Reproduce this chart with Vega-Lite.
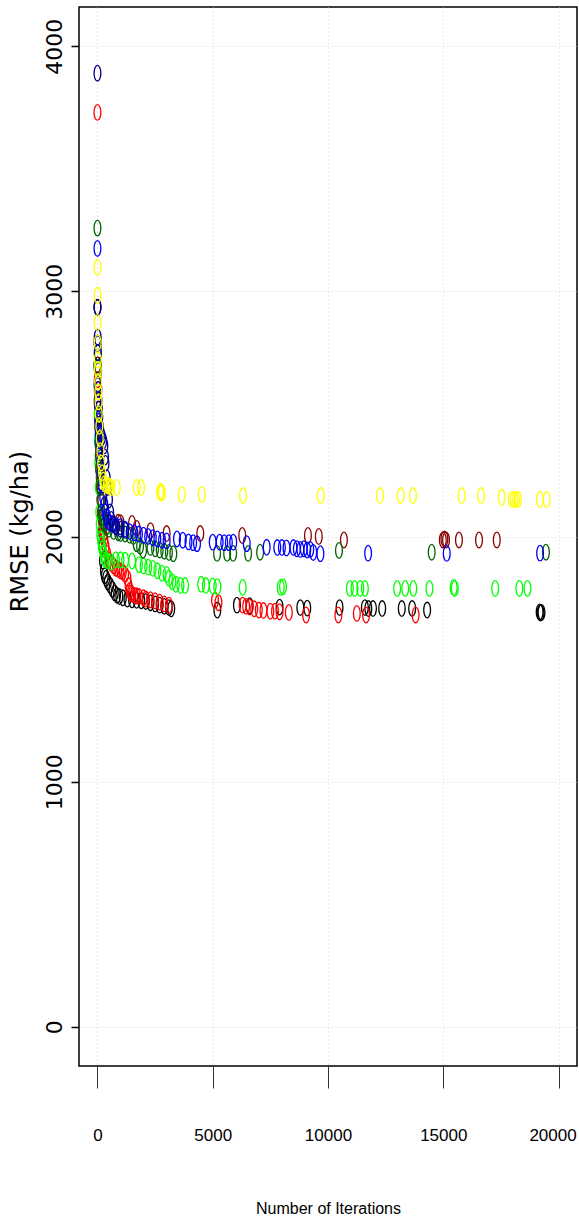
{
  "$schema": "https://vega.github.io/schema/vega-lite/v6.json",
  "width": 498,
  "height": 1059,
  "autosize": {"type": "none"},
  "padding": {"left": 79, "top": 7, "right": 2, "bottom": 163},
  "background": "white",
  "config": {"view": {"stroke": "black", "strokeWidth": 1.5}},
  "datasets": {
    "runs": [
      {"run":"black","iteration":0,"rmse":2935},{"run":"black","iteration":5,"rmse":2790},{"run":"black","iteration":10,"rmse":2700},{"run":"black","iteration":20,"rmse":2620},{"run":"black","iteration":30,"rmse":2560},{"run":"black","iteration":50,"rmse":2500},{"run":"black","iteration":70,"rmse":2430},{"run":"black","iteration":90,"rmse":2370},{"run":"black","iteration":110,"rmse":2300},{"run":"black","iteration":130,"rmse":2220},{"run":"black","iteration":150,"rmse":2150},{"run":"black","iteration":170,"rmse":2080},{"run":"black","iteration":190,"rmse":2020},{"run":"black","iteration":210,"rmse":1960},{"run":"black","iteration":240,"rmse":1900},{"run":"black","iteration":280,"rmse":1860},{"run":"black","iteration":320,"rmse":1840},{"run":"black","iteration":380,"rmse":1830},{"run":"black","iteration":450,"rmse":1815},{"run":"black","iteration":550,"rmse":1800},{"run":"black","iteration":650,"rmse":1785},{"run":"black","iteration":750,"rmse":1770},{"run":"black","iteration":850,"rmse":1760},{"run":"black","iteration":950,"rmse":1755},{"run":"black","iteration":1100,"rmse":1750},{"run":"black","iteration":1300,"rmse":1745},{"run":"black","iteration":1500,"rmse":1742},{"run":"black","iteration":1700,"rmse":1740},{"run":"black","iteration":1900,"rmse":1738},{"run":"black","iteration":2100,"rmse":1735},{"run":"black","iteration":2300,"rmse":1730},{"run":"black","iteration":2500,"rmse":1725},{"run":"black","iteration":2700,"rmse":1720},{"run":"black","iteration":2900,"rmse":1715},{"run":"black","iteration":3100,"rmse":1710},{"run":"black","iteration":3200,"rmse":1705},{"run":"black","iteration":5200,"rmse":1700},{"run":"black","iteration":6050,"rmse":1720},{"run":"black","iteration":6600,"rmse":1718},{"run":"black","iteration":7900,"rmse":1712},{"run":"black","iteration":8800,"rmse":1710},{"run":"black","iteration":9100,"rmse":1708},{"run":"black","iteration":10500,"rmse":1710},{"run":"black","iteration":11600,"rmse":1710},{"run":"black","iteration":11750,"rmse":1706},{"run":"black","iteration":11950,"rmse":1706},{"run":"black","iteration":12350,"rmse":1706},{"run":"black","iteration":13200,"rmse":1706},{"run":"black","iteration":13650,"rmse":1706},{"run":"black","iteration":14300,"rmse":1700},{"run":"black","iteration":19180,"rmse":1692},{"run":"black","iteration":19220,"rmse":1688},{"run":"black","iteration":19260,"rmse":1690},
      {"run":"red","iteration":0,"rmse":3730},{"run":"red","iteration":5,"rmse":2690},{"run":"red","iteration":10,"rmse":2640},{"run":"red","iteration":15,"rmse":2600},{"run":"red","iteration":20,"rmse":2560},{"run":"red","iteration":30,"rmse":2520},{"run":"red","iteration":40,"rmse":2480},{"run":"red","iteration":50,"rmse":2440},{"run":"red","iteration":60,"rmse":2400},{"run":"red","iteration":80,"rmse":2350},{"run":"red","iteration":100,"rmse":2300},{"run":"red","iteration":120,"rmse":2250},{"run":"red","iteration":140,"rmse":2200},{"run":"red","iteration":160,"rmse":2150},{"run":"red","iteration":180,"rmse":2100},{"run":"red","iteration":200,"rmse":2060},{"run":"red","iteration":230,"rmse":2030},{"run":"red","iteration":260,"rmse":2010},{"run":"red","iteration":300,"rmse":1990},{"run":"red","iteration":350,"rmse":1960},{"run":"red","iteration":420,"rmse":1930},{"run":"red","iteration":500,"rmse":1905},{"run":"red","iteration":600,"rmse":1890},{"run":"red","iteration":700,"rmse":1880},{"run":"red","iteration":800,"rmse":1870},{"run":"red","iteration":900,"rmse":1865},{"run":"red","iteration":1000,"rmse":1860},{"run":"red","iteration":1100,"rmse":1855},{"run":"red","iteration":1200,"rmse":1845},{"run":"red","iteration":1300,"rmse":1830},{"run":"red","iteration":1350,"rmse":1800},{"run":"red","iteration":1400,"rmse":1780},{"run":"red","iteration":1450,"rmse":1770},{"run":"red","iteration":1500,"rmse":1765},{"run":"red","iteration":1600,"rmse":1760},{"run":"red","iteration":1700,"rmse":1758},{"run":"red","iteration":1800,"rmse":1755},{"run":"red","iteration":2000,"rmse":1750},{"run":"red","iteration":2100,"rmse":1745},{"run":"red","iteration":2300,"rmse":1742},{"run":"red","iteration":2500,"rmse":1738},{"run":"red","iteration":2700,"rmse":1732},{"run":"red","iteration":2900,"rmse":1725},{"run":"red","iteration":3100,"rmse":1720},{"run":"red","iteration":5100,"rmse":1740},{"run":"red","iteration":5250,"rmse":1730},{"run":"red","iteration":6300,"rmse":1720},{"run":"red","iteration":6450,"rmse":1715},{"run":"red","iteration":6600,"rmse":1712},{"run":"red","iteration":6800,"rmse":1705},{"run":"red","iteration":7000,"rmse":1700},{"run":"red","iteration":7200,"rmse":1698},{"run":"red","iteration":7500,"rmse":1695},{"run":"red","iteration":7700,"rmse":1695},{"run":"red","iteration":7900,"rmse":1693},{"run":"red","iteration":8300,"rmse":1690},{"run":"red","iteration":9050,"rmse":1680},{"run":"red","iteration":10450,"rmse":1680},{"run":"red","iteration":11250,"rmse":1686},{"run":"red","iteration":11650,"rmse":1680},{"run":"red","iteration":13800,"rmse":1680},
      {"run":"darkred","iteration":0,"rmse":2700},{"run":"darkred","iteration":10,"rmse":2550},{"run":"darkred","iteration":20,"rmse":2480},{"run":"darkred","iteration":40,"rmse":2400},{"run":"darkred","iteration":60,"rmse":2330},{"run":"darkred","iteration":80,"rmse":2270},{"run":"darkred","iteration":100,"rmse":2210},{"run":"darkred","iteration":130,"rmse":2150},{"run":"darkred","iteration":160,"rmse":2100},{"run":"darkred","iteration":200,"rmse":2070},{"run":"darkred","iteration":300,"rmse":2062},{"run":"darkred","iteration":500,"rmse":2058},{"run":"darkred","iteration":900,"rmse":2058},{"run":"darkred","iteration":1000,"rmse":2056},{"run":"darkred","iteration":1500,"rmse":2053},{"run":"darkred","iteration":1700,"rmse":2033},{"run":"darkred","iteration":2300,"rmse":2024},{"run":"darkred","iteration":3000,"rmse":2012},{"run":"darkred","iteration":4460,"rmse":2012},{"run":"darkred","iteration":6280,"rmse":2004},{"run":"darkred","iteration":9130,"rmse":2004},{"run":"darkred","iteration":9600,"rmse":2000},{"run":"darkred","iteration":10690,"rmse":1986},{"run":"darkred","iteration":14980,"rmse":1986},{"run":"darkred","iteration":15050,"rmse":1990},{"run":"darkred","iteration":15120,"rmse":1986},{"run":"darkred","iteration":15680,"rmse":1986},{"run":"darkred","iteration":16550,"rmse":1986},{"run":"darkred","iteration":17320,"rmse":1986},
      {"run":"green","iteration":0,"rmse":2690},{"run":"green","iteration":3,"rmse":2620},{"run":"green","iteration":10,"rmse":2500},{"run":"green","iteration":20,"rmse":2400},{"run":"green","iteration":40,"rmse":2300},{"run":"green","iteration":60,"rmse":2200},{"run":"green","iteration":80,"rmse":2100},{"run":"green","iteration":100,"rmse":2050},{"run":"green","iteration":120,"rmse":2010},{"run":"green","iteration":150,"rmse":1990},{"run":"green","iteration":180,"rmse":1970},{"run":"green","iteration":220,"rmse":1950},{"run":"green","iteration":260,"rmse":1930},{"run":"green","iteration":300,"rmse":1915},{"run":"green","iteration":350,"rmse":1905},{"run":"green","iteration":450,"rmse":1900},{"run":"green","iteration":600,"rmse":1895},{"run":"green","iteration":800,"rmse":1905},{"run":"green","iteration":1000,"rmse":1905},{"run":"green","iteration":1200,"rmse":1903},{"run":"green","iteration":1500,"rmse":1900},{"run":"green","iteration":1800,"rmse":1885},{"run":"green","iteration":2000,"rmse":1880},{"run":"green","iteration":2200,"rmse":1875},{"run":"green","iteration":2400,"rmse":1870},{"run":"green","iteration":2600,"rmse":1860},{"run":"green","iteration":2800,"rmse":1850},{"run":"green","iteration":3000,"rmse":1845},{"run":"green","iteration":3100,"rmse":1830},{"run":"green","iteration":3250,"rmse":1815},{"run":"green","iteration":3400,"rmse":1805},{"run":"green","iteration":3600,"rmse":1800},{"run":"green","iteration":3800,"rmse":1800},{"run":"green","iteration":4500,"rmse":1805},{"run":"green","iteration":4700,"rmse":1800},{"run":"green","iteration":5000,"rmse":1798},{"run":"green","iteration":5200,"rmse":1795},{"run":"green","iteration":6300,"rmse":1792},{"run":"green","iteration":7950,"rmse":1792},{"run":"green","iteration":8050,"rmse":1795},{"run":"green","iteration":10950,"rmse":1788},{"run":"green","iteration":11150,"rmse":1788},{"run":"green","iteration":11400,"rmse":1788},{"run":"green","iteration":11600,"rmse":1788},{"run":"green","iteration":13000,"rmse":1788},{"run":"green","iteration":13350,"rmse":1788},{"run":"green","iteration":13700,"rmse":1788},{"run":"green","iteration":14400,"rmse":1788},{"run":"green","iteration":15450,"rmse":1792},{"run":"green","iteration":15500,"rmse":1788},{"run":"green","iteration":17250,"rmse":1788},{"run":"green","iteration":18300,"rmse":1788},{"run":"green","iteration":18650,"rmse":1788},
      {"run":"darkgreen","iteration":0,"rmse":3258},{"run":"darkgreen","iteration":10,"rmse":2750},{"run":"darkgreen","iteration":20,"rmse":2560},{"run":"darkgreen","iteration":30,"rmse":2450},{"run":"darkgreen","iteration":40,"rmse":2380},{"run":"darkgreen","iteration":60,"rmse":2330},{"run":"darkgreen","iteration":80,"rmse":2280},{"run":"darkgreen","iteration":100,"rmse":2240},{"run":"darkgreen","iteration":120,"rmse":2200},{"run":"darkgreen","iteration":150,"rmse":2150},{"run":"darkgreen","iteration":180,"rmse":2100},{"run":"darkgreen","iteration":220,"rmse":2080},{"run":"darkgreen","iteration":260,"rmse":2060},{"run":"darkgreen","iteration":300,"rmse":2050},{"run":"darkgreen","iteration":400,"rmse":2040},{"run":"darkgreen","iteration":500,"rmse":2030},{"run":"darkgreen","iteration":700,"rmse":2020},{"run":"darkgreen","iteration":900,"rmse":2015},{"run":"darkgreen","iteration":1000,"rmse":2012},{"run":"darkgreen","iteration":1200,"rmse":2010},{"run":"darkgreen","iteration":1400,"rmse":2005},{"run":"darkgreen","iteration":1560,"rmse":2000},{"run":"darkgreen","iteration":1700,"rmse":1971},{"run":"darkgreen","iteration":1850,"rmse":1960},{"run":"darkgreen","iteration":1980,"rmse":1945},{"run":"darkgreen","iteration":2300,"rmse":1955},{"run":"darkgreen","iteration":2500,"rmse":1950},{"run":"darkgreen","iteration":2700,"rmse":1945},{"run":"darkgreen","iteration":2900,"rmse":1940},{"run":"darkgreen","iteration":3100,"rmse":1935},{"run":"darkgreen","iteration":3290,"rmse":1930},{"run":"darkgreen","iteration":5190,"rmse":1931},{"run":"darkgreen","iteration":5625,"rmse":1931},{"run":"darkgreen","iteration":5885,"rmse":1931},{"run":"darkgreen","iteration":6535,"rmse":1931},{"run":"darkgreen","iteration":7055,"rmse":1936},{"run":"darkgreen","iteration":10476,"rmse":1943},{"run":"darkgreen","iteration":14497,"rmse":1936},{"run":"darkgreen","iteration":19453,"rmse":1936},
      {"run":"blue","iteration":0,"rmse":3175},{"run":"blue","iteration":10,"rmse":2620},{"run":"blue","iteration":20,"rmse":2540},{"run":"blue","iteration":40,"rmse":2470},{"run":"blue","iteration":60,"rmse":2420},{"run":"blue","iteration":80,"rmse":2390},{"run":"blue","iteration":100,"rmse":2360},{"run":"blue","iteration":130,"rmse":2310},{"run":"blue","iteration":160,"rmse":2260},{"run":"blue","iteration":200,"rmse":2210},{"run":"blue","iteration":250,"rmse":2160},{"run":"blue","iteration":300,"rmse":2130},{"run":"blue","iteration":350,"rmse":2100},{"run":"blue","iteration":400,"rmse":2080},{"run":"blue","iteration":450,"rmse":2065},{"run":"blue","iteration":550,"rmse":2055},{"run":"blue","iteration":650,"rmse":2050},{"run":"blue","iteration":800,"rmse":2045},{"run":"blue","iteration":1000,"rmse":2040},{"run":"blue","iteration":1200,"rmse":2030},{"run":"blue","iteration":1400,"rmse":2020},{"run":"blue","iteration":1600,"rmse":2015},{"run":"blue","iteration":1800,"rmse":2010},{"run":"blue","iteration":2000,"rmse":2005},{"run":"blue","iteration":2200,"rmse":2000},{"run":"blue","iteration":2400,"rmse":1995},{"run":"blue","iteration":2600,"rmse":1990},{"run":"blue","iteration":2800,"rmse":1985},{"run":"blue","iteration":3000,"rmse":1982},{"run":"blue","iteration":3450,"rmse":1990},{"run":"blue","iteration":3700,"rmse":1985},{"run":"blue","iteration":3950,"rmse":1978},{"run":"blue","iteration":4150,"rmse":1975},{"run":"blue","iteration":4320,"rmse":1971},{"run":"blue","iteration":5000,"rmse":1977},{"run":"blue","iteration":5300,"rmse":1977},{"run":"blue","iteration":5500,"rmse":1975},{"run":"blue","iteration":5700,"rmse":1975},{"run":"blue","iteration":5890,"rmse":1977},{"run":"blue","iteration":6475,"rmse":1971},{"run":"blue","iteration":7340,"rmse":1956},{"run":"blue","iteration":7800,"rmse":1955},{"run":"blue","iteration":8000,"rmse":1955},{"run":"blue","iteration":8200,"rmse":1953},{"run":"blue","iteration":8500,"rmse":1955},{"run":"blue","iteration":8650,"rmse":1950},{"run":"blue","iteration":8800,"rmse":1947},{"run":"blue","iteration":8950,"rmse":1950},{"run":"blue","iteration":9100,"rmse":1945},{"run":"blue","iteration":9230,"rmse":1947},{"run":"blue","iteration":9360,"rmse":1935},{"run":"blue","iteration":9670,"rmse":1930},{"run":"blue","iteration":11740,"rmse":1932},{"run":"blue","iteration":15150,"rmse":1931},{"run":"blue","iteration":19200,"rmse":1932},
      {"run":"navy","iteration":0,"rmse":3890},{"run":"navy","iteration":5,"rmse":2935},{"run":"navy","iteration":10,"rmse":2813},{"run":"navy","iteration":15,"rmse":2787},{"run":"navy","iteration":20,"rmse":2750},{"run":"navy","iteration":30,"rmse":2678},{"run":"navy","iteration":40,"rmse":2600},{"run":"navy","iteration":50,"rmse":2555},{"run":"navy","iteration":60,"rmse":2520},{"run":"navy","iteration":80,"rmse":2487},{"run":"navy","iteration":100,"rmse":2450},{"run":"navy","iteration":150,"rmse":2420},{"run":"navy","iteration":200,"rmse":2405},{"run":"navy","iteration":250,"rmse":2390},{"run":"navy","iteration":300,"rmse":2370},{"run":"navy","iteration":330,"rmse":2324},{"run":"navy","iteration":350,"rmse":2298},{"run":"navy","iteration":400,"rmse":2240},{"run":"navy","iteration":450,"rmse":2200},{"run":"navy","iteration":500,"rmse":2150},{"run":"navy","iteration":550,"rmse":2100},{"run":"navy","iteration":600,"rmse":2070},{"run":"navy","iteration":700,"rmse":2050},{"run":"navy","iteration":800,"rmse":2040},{"run":"navy","iteration":1000,"rmse":2030},{"run":"navy","iteration":1200,"rmse":2025},
      {"run":"yellow","iteration":0,"rmse":3098},{"run":"yellow","iteration":3,"rmse":2984},{"run":"yellow","iteration":6,"rmse":2873},{"run":"yellow","iteration":10,"rmse":2790},{"run":"yellow","iteration":15,"rmse":2720},{"run":"yellow","iteration":20,"rmse":2680},{"run":"yellow","iteration":30,"rmse":2630},{"run":"yellow","iteration":40,"rmse":2590},{"run":"yellow","iteration":50,"rmse":2550},{"run":"yellow","iteration":60,"rmse":2500},{"run":"yellow","iteration":80,"rmse":2450},{"run":"yellow","iteration":100,"rmse":2400},{"run":"yellow","iteration":130,"rmse":2350},{"run":"yellow","iteration":160,"rmse":2300},{"run":"yellow","iteration":200,"rmse":2260},{"run":"yellow","iteration":250,"rmse":2230},{"run":"yellow","iteration":300,"rmse":2215},{"run":"yellow","iteration":400,"rmse":2208},{"run":"yellow","iteration":460,"rmse":2208},{"run":"yellow","iteration":520,"rmse":2205},{"run":"yellow","iteration":600,"rmse":2200},{"run":"yellow","iteration":837,"rmse":2200},{"run":"yellow","iteration":1704,"rmse":2200},{"run":"yellow","iteration":1890,"rmse":2200},{"run":"yellow","iteration":2715,"rmse":2181},{"run":"yellow","iteration":2760,"rmse":2185},{"run":"yellow","iteration":2790,"rmse":2178},{"run":"yellow","iteration":3655,"rmse":2171},{"run":"yellow","iteration":4523,"rmse":2171},{"run":"yellow","iteration":6314,"rmse":2167},{"run":"yellow","iteration":9683,"rmse":2167},{"run":"yellow","iteration":12255,"rmse":2167},{"run":"yellow","iteration":13152,"rmse":2167},{"run":"yellow","iteration":13686,"rmse":2167},{"run":"yellow","iteration":15798,"rmse":2167},{"run":"yellow","iteration":16635,"rmse":2167},{"run":"yellow","iteration":17533,"rmse":2160},{"run":"yellow","iteration":17966,"rmse":2151},{"run":"yellow","iteration":18066,"rmse":2151},{"run":"yellow","iteration":18153,"rmse":2151},{"run":"yellow","iteration":18240,"rmse":2151},{"run":"yellow","iteration":19193,"rmse":2151},{"run":"yellow","iteration":19484,"rmse":2151}
    ]
  },
  "data": {"name": "runs"},
  "mark": {
    "type": "point",
    "shape": "M0,-2.3C0.5523,-2.3 1,-1.2703 1,0C1,1.2703 0.5523,2.3 0,2.3C-0.5523,2.3 -1,1.2703 -1,0C-1,-1.2703 -0.5523,-2.3 0,-2.3Z",
    "filled": false,
    "size": 46,
    "strokeWidth": 1.3,
    "opacity": 1
  },
  "encoding": {
    "x": {
      "field": "iteration",
      "type": "quantitative",
      "scale": {"domain": [-800, 20800], "nice": false, "zero": false},
      "axis": {
        "values": [0, 5000, 10000, 15000, 20000],
        "format": "d",
        "title": "Number of Iterations",
        "domain": false,
        "grid": true, "gridColor": "#d3d3d3", "gridDash": [1, 3], "gridWidth": 1,
        "ticks": true, "tickSize": 22, "tickColor": "#333333", "tickWidth": 1,
        "labelFont": "Liberation Sans, Arial, sans-serif",
        "labelFontSize": 17, "labelColor": "black",
        "labelBaseline": "alphabetic", "labelPadding": 52,
        "labelOffset": {"condition": {"test": "datum.value == 20000", "value": -6}, "value": 0},
        "labelFlush": false, "labelOverlap": false,
        "titleFont": "Liberation Sans, Arial, sans-serif",
        "titleFontSize": 16, "titleFontWeight": "normal", "titleColor": "black",
        "titleBaseline": "alphabetic", "titleY": 147
      }
    },
    "y": {
      "field": "rmse",
      "type": "quantitative",
      "scale": {"domain": [-160, 4160], "nice": false, "zero": false},
      "axis": {
        "values": [0, 1000, 2000, 3000, 4000],
        "format": "d",
        "title": "RMSE (kg/ha)",
        "domain": false,
        "grid": true, "gridColor": "#d3d3d3", "gridDash": [1, 3], "gridWidth": 1,
        "ticks": true, "tickSize": 8, "tickColor": "black", "tickWidth": 1.5,
        "labelAngle": -90, "labelAlign": "center", "labelBaseline": "alphabetic", "labelPadding": 10,
        "labelFont": "DejaVu Sans", "labelFontSize": 22, "labelColor": "black",
        "labelFlush": false, "labelOverlap": false,
        "titleFont": "DejaVu Sans", "titleFontSize": 24, "titleFontWeight": "normal", "titleColor": "black",
        "titleAngle": -90, "titleBaseline": "alphabetic", "titleX": -52, "titleY": 524
      }
    },
    "color": {
      "field": "run",
      "type": "nominal",
      "scale": {
        "domain": ["black", "red", "darkred", "green", "darkgreen", "blue", "navy", "yellow"],
        "range": ["#000000", "#FF0000", "#8B0000", "#00FF00", "#006400", "#0000FF", "#00008B", "#FFFF00"]
      },
      "legend": null
    }
  }
}
